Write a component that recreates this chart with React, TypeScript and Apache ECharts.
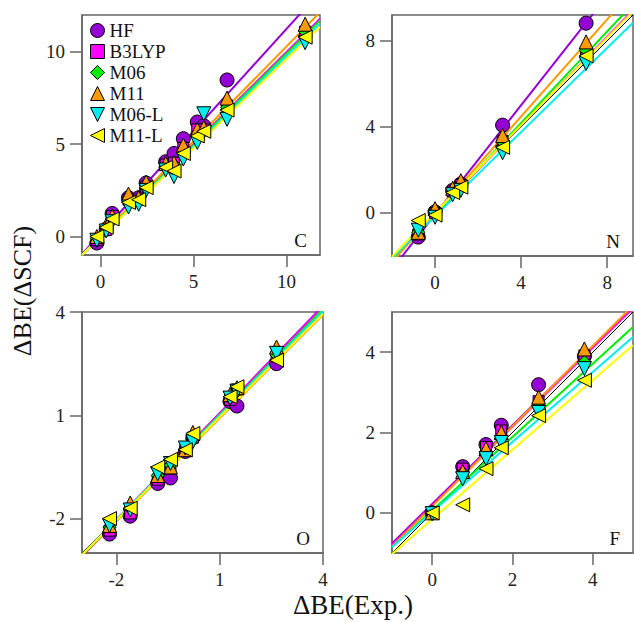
import React, { useEffect, useRef } from "react";
import * as echarts from "echarts";

const methods = ["HF", "B3LYP", "M06", "M11", "M06-L", "M11-L"];
const colors = ["#9400D3", "#FF00FF", "#00EE00", "#FF9900", "#00EEEE", "#FFFF00"];
const DOWN_TRI = "path://M0,0L20,0L10,20Z";
const LEFT_TRI = "path://M20,0L20,20L0,10Z";
const symbols = ["circle", "rect", "diamond", "triangle", DOWN_TRI, LEFT_TRI];
const sizes = [14, 11, 13, 14, 14, 14];

// ---- Carbon ----
const cExp = [-0.2, 0.3, 0.62, 1.5, 2.05, 2.45, 3.5, 3.95, 4.45, 5.2, 5.55, 6.8, 11.0];
const cHF = [-0.35, 0.4, 1.25, 2.1, 2.1, 2.9, 4.05, 4.5, 5.3, 6.2, 6.0, 8.48, 12.6];
const cB3LYP = [-0.2, 0.35, 1.1, 2.0, 2.0, 2.7, 3.9, 4.0, 4.8, 5.8, 5.8, 7.1, 11.1];
const cM06 = [-0.1, 0.5, 1.0, 2.1, 2.0, 2.75, 3.8, 3.9, 4.7, 5.6, 5.7, 7.0, 11.1];
const cM11 = [0.0, 0.6, 1.1, 2.3, 2.1, 2.95, 3.95, 4.0, 4.95, 5.8, 5.9, 7.5, 11.5];
const cM06L = [-0.2, 0.3, 0.8, 1.6, 1.75, 2.5, 3.6, 3.25, 4.2, 5.1, 6.65, 6.35, 10.5];
const cM11L = [0.0, 0.5, 0.95, 1.85, 2.0, 2.65, 3.75, 3.55, 4.5, 5.45, 5.7, 6.85, 10.8];
const cSlope = [1.11, 1.0, 0.992, 1.027, 0.979, 0.965];
const cIntercept = [0.15, 0.0, -0.01, 0.03, -0.02, -0.035];

// ---- Nitrogen ----
const nExp = [-0.78, 0.0, 0.82, 1.2, 3.14, 7.02];
const nHF = [-1.12, 0.05, 1.05, 1.35, 4.08, 8.82];
const nB3LYP = [-1.0, 0.0, 1.0, 1.3, 3.35, 7.4];
const nM06 = [-0.9, 0.1, 1.0, 1.3, 3.3, 7.55];
const nM11 = [-0.9, 0.2, 1.15, 1.5, 3.6, 7.95];
const nM06L = [-0.8, -0.2, 0.85, 1.05, 2.8, 6.95];
const nM11L = [-0.35, -0.1, 0.95, 1.2, 3.05, 7.3];
const nSlope = [1.27, 1.03, 1.063, 1.128, 0.977, 1.017];
const nIntercept = [-0.07, -0.05, -0.07, -0.03, -0.15, 0.01];

// ---- Oxygen ----
const oExp = [-2.2, -1.6, -0.8, -0.43, 0.0, 0.22, 1.3, 1.5, 2.65];
const oHF = [-2.45, -1.93, -0.98, -0.82, -0.05, 0.35, 1.4, 1.27, 2.5];
const oB3LYP = [-2.35, -1.85, -0.87, -0.55, 0.0, 0.35, 1.45, 1.75, 2.7];
const oM06 = [-2.25, -1.7, -0.75, -0.45, 0.0, 0.4, 1.5, 1.7, 2.75];
const oM11 = [-2.2, -1.55, -0.75, -0.5, 0.0, 0.5, 1.6, 1.8, 2.98];
const oM06L = [-2.2, -1.75, -0.7, -0.4, 0.05, 0.23, 1.5, 1.7, 2.8];
const oM11L = [-2.0, -1.7, -0.5, -0.28, 0.0, 0.47, 1.54, 1.83, 2.6];
const oSlope = [1.04, 1.03, 1.02, 1.0, 1.01, 1.0];
const oIntercept = [0.02, 0.03, 0.0, -0.08, -0.02, -0.05];

// ---- Fluorine ----
const fExp = [0.0, 0.76, 1.34, 1.72, 2.65, 3.79];
const fHF = [0.0, 1.15, 1.7, 2.18, 3.19, 3.9];
const fB3LYP = [0.0, 1.1, 1.64, 2.05, 2.78, 3.92];
const fM06 = [0.0, 1.0, 1.5, 1.85, 2.64, 3.76];
const fM11 = [0.0, 1.03, 1.6, 2.0, 2.88, 4.08];
const fM06L = [-0.02, 0.85, 1.35, 1.75, 2.5, 3.59];
const fM11L = [0.0, 0.2, 1.1, 1.62, 2.42, 3.3];
const fSlope = [0.98, 0.983, 0.913, 1.0, 0.872, 0.866];
const fIntercept = [0.22, 0.18, 0.06, 0.16, 0.02, -0.16];

// axis ticks
const cXTicks = [0, 5, 10];
const cYTicks = [0, 5, 10];
const nTicks = [0, 4, 8];
const oTicks = [-2, 1, 4];
const fTicks = [0, 2, 4];

const panels = [
  { label: "C", exp: cExp, calc: [cHF, cB3LYP, cM06, cM11, cM06L, cM11L], slope: cSlope, intercept: cIntercept,
    xMin: -1, xMax: 11.8, yMin: -1, yMax: 12, xTicks: cXTicks, yTicks: cYTicks,
    grid: { left: 82, top: 15, width: 238, height: 240 } },
  { label: "N", exp: nExp, calc: [nHF, nB3LYP, nM06, nM11, nM06L, nM11L], slope: nSlope, intercept: nIntercept,
    xMin: -2, xMax: 9.2, yMin: -2, yMax: 9.2, xTicks: nTicks, yTicks: nTicks,
    grid: { left: 392, top: 15, width: 241, height: 241 } },
  { label: "O", exp: oExp, calc: [oHF, oB3LYP, oM06, oM11, oM06L, oM11L], slope: oSlope, intercept: oIntercept,
    xMin: -3, xMax: 4, yMin: -3, yMax: 4, xTicks: oTicks, yTicks: oTicks,
    grid: { left: 82, top: 312, width: 241, height: 241 } },
  { label: "F", exp: fExp, calc: [fHF, fB3LYP, fM06, fM11, fM06L, fM11L], slope: fSlope, intercept: fIntercept,
    xMin: -1, xMax: 5, yMin: -1, yMax: 5, xTicks: fTicks, yTicks: fTicks,
    grid: { left: 392, top: 312, width: 241, height: 241 } },
];

const FONT = "'Liberation Serif', 'DejaVu Serif', serif";
const FRAME = "#666";

export default function App() {
  const ref = useRef<HTMLDivElement>(null);
  useEffect(() => {
    document.body.style.margin = "0";
    if (!ref.current) return;
    const chart = echarts.init(ref.current, undefined, { renderer: "svg" });

    const grids: any[] = [];
    const xAxes: any[] = [];
    const yAxes: any[] = [];
    const series: any[] = [];
    const graphics: any[] = [];

    panels.forEach((p, i) => {
      grids.push({ ...p.grid, show: true, borderColor: FRAME, borderWidth: 1.5, backgroundColor: "transparent" });
      const axisCommon = (ticks: number[]) => ({
        type: "value",
        gridIndex: i,
        axisLine: { show: true, onZero: false, lineStyle: { color: FRAME, width: 1.5 } },
        axisTick: { show: true, inside: false, length: 12, customValues: ticks, lineStyle: { color: FRAME, width: 1.5 } },
        axisLabel: { customValues: ticks, margin: 17, fontSize: 19, fontFamily: FONT, color: "#222" },
        splitLine: { show: false },
      });
      xAxes.push({ ...axisCommon(p.xTicks), min: p.xMin, max: p.xMax });
      yAxes.push({ ...axisCommon(p.yTicks), min: p.yMin, max: p.yMax });

      // y = x reference
      series.push({
        type: "line", name: "y=x", xAxisIndex: i, yAxisIndex: i, symbol: "none", silent: true, z: 1,
        lineStyle: { color: "#000", width: 1 },
        data: [[p.xMin, p.xMin], [p.xMax, p.xMax]],
      });
      // fits
      methods.forEach((m, k) => {
        const a = p.slope[k];
        const b = p.intercept[k];
        series.push({
          type: "line", name: m + " fit", xAxisIndex: i, yAxisIndex: i, symbol: "none", silent: true, z: 1,
          lineStyle: { color: colors[k], width: 2 },
          data: [[p.xMin, a * p.xMin + b], [p.xMax, a * p.xMax + b]],
        });
      });
      // points
      methods.forEach((m, k) => {
        series.push({
          type: "scatter", name: m, xAxisIndex: i, yAxisIndex: i, z: 3,
          symbol: symbols[k], symbolSize: sizes[k],
          itemStyle: { color: colors[k], borderColor: "#000", borderWidth: 1, opacity: 1 },
          data: p.exp.map((x, j) => [x, p.calc[k][j]]),
        });
      });

      graphics.push({
        type: "text",
        x: p.grid.left + p.grid.width - 13,
        y: p.grid.top + p.grid.height - 5,
        style: { text: p.label, font: `19px ${FONT}`, fill: "#111", textAlign: "right", textVerticalAlign: "bottom" },
      });
    });

    graphics.push({
      type: "text", x: 22, y: 291, rotation: Math.PI / 2,
      style: { text: "ΔBE(ΔSCF)", font: `26px ${FONT}`, fill: "#111", textAlign: "center", textVerticalAlign: "middle" },
    });
    graphics.push({
      type: "text", x: 353, y: 605,
      style: { text: "ΔBE(Exp.)", font: `27px ${FONT}`, fill: "#111", textAlign: "center", textVerticalAlign: "middle" },
    });

    chart.setOption({
      animation: false,
      backgroundColor: "#fff",
      grid: grids,
      xAxis: xAxes,
      yAxis: yAxes,
      series,
      graphic: graphics,
      legend: {
        data: methods.map((m, k) => ({ name: m, icon: symbols[k] })),
        orient: "vertical",
        left: 90,
        top: 21,
        padding: 0,
        itemWidth: 14,
        itemHeight: 14,
        itemGap: 2,
        selectedMode: false,
        itemStyle: { borderColor: "#000", borderWidth: 1 },
        textStyle: { fontFamily: FONT, fontSize: 19, color: "#111", lineHeight: 17 },
      },
    });
    return () => chart.dispose();
  }, []);
  return <div ref={ref} style={{ width: 634, height: 622 }} />;
}
